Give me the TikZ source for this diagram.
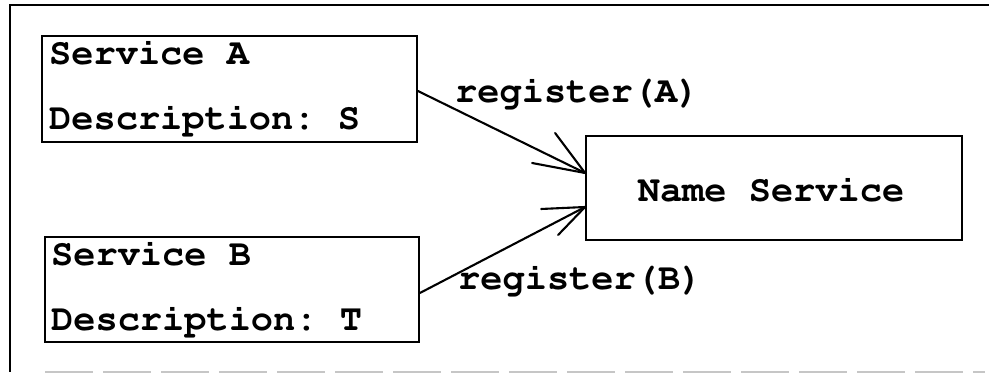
\documentclass[tikz,border=0pt]{standalone}
\usepackage[T1]{fontenc}
\usepackage{courier}
\newcommand{\courfont}{\fontencoding{T1}\fontfamily{pcr}\fontseries{b}\fontsize{37}{40}\selectfont\frenchspacing}
\begin{document}
\begin{tikzpicture}[x=1pt,y=-1pt,
  box/.style={draw=black,line width=1.8pt,inner sep=0pt},
  txt/.style={inner sep=0pt,anchor=base west,font=\courfont},
  conn/.style={line width=2.1pt,line cap=round},
  barb/.style={line width=2.1pt,line cap=round}]
\useasboundingbox (0,0) rectangle (989,374);
% outer frame
\coordinate (fbl) at (10,372);
\coordinate (ftl) at (10,5);
\coordinate (ftr) at (989,5);
\coordinate (fbs) at (45,372);
\coordinate (fbe) at (985,372);
\draw[line width=2pt] (fbl) -- (ftl) -- (ftr);
\draw[line width=1.5pt,gray!45,dash pattern=on 48pt off 10pt] (fbs) -- (fbe);
% boxes
\node[box,minimum width=375pt,minimum height=106pt] (A) at (229.5,89) {};
\node[box,minimum width=374pt,minimum height=105pt] (B) at (232,289.5) {};
\node[box,minimum width=376pt,minimum height=104pt] (NS) at (774,188) {};
% texts
\node[txt] (a1) at (49,65) {Service A};
\node[txt] (a2) at (49,130) {Description: S};
\node[txt] (b1) at (51,266) {Service B};
\node[txt] (b2) at (51,331) {Description: T};
\node[txt,anchor=base] (ns) at (771,202) {Name Service};
\node[txt] (ra) at (455,103) {register(A)};
\node[txt] (rb) at (458,290) {register(B)};
% connectors (yshift is in page units: positive = up)
\coordinate (tipA) at ([yshift=15pt]NS.west);
\coordinate (tipB) at ([yshift=-19pt]NS.west);
\draw[conn] ([yshift=-2pt]A.east) -- (tipA);
\draw[conn] ([yshift=-3.5pt]B.east) -- (tipB);
% open arrowheads
\draw[barb] (tipA) -- ++(-30,-40);
\draw[barb] (tipA) -- ++(-53,-10);
\draw[barb] (tipB) -- ++(-44,2);
\draw[barb] (tipB) -- ++(-27,28);
\end{tikzpicture}
\end{document}
